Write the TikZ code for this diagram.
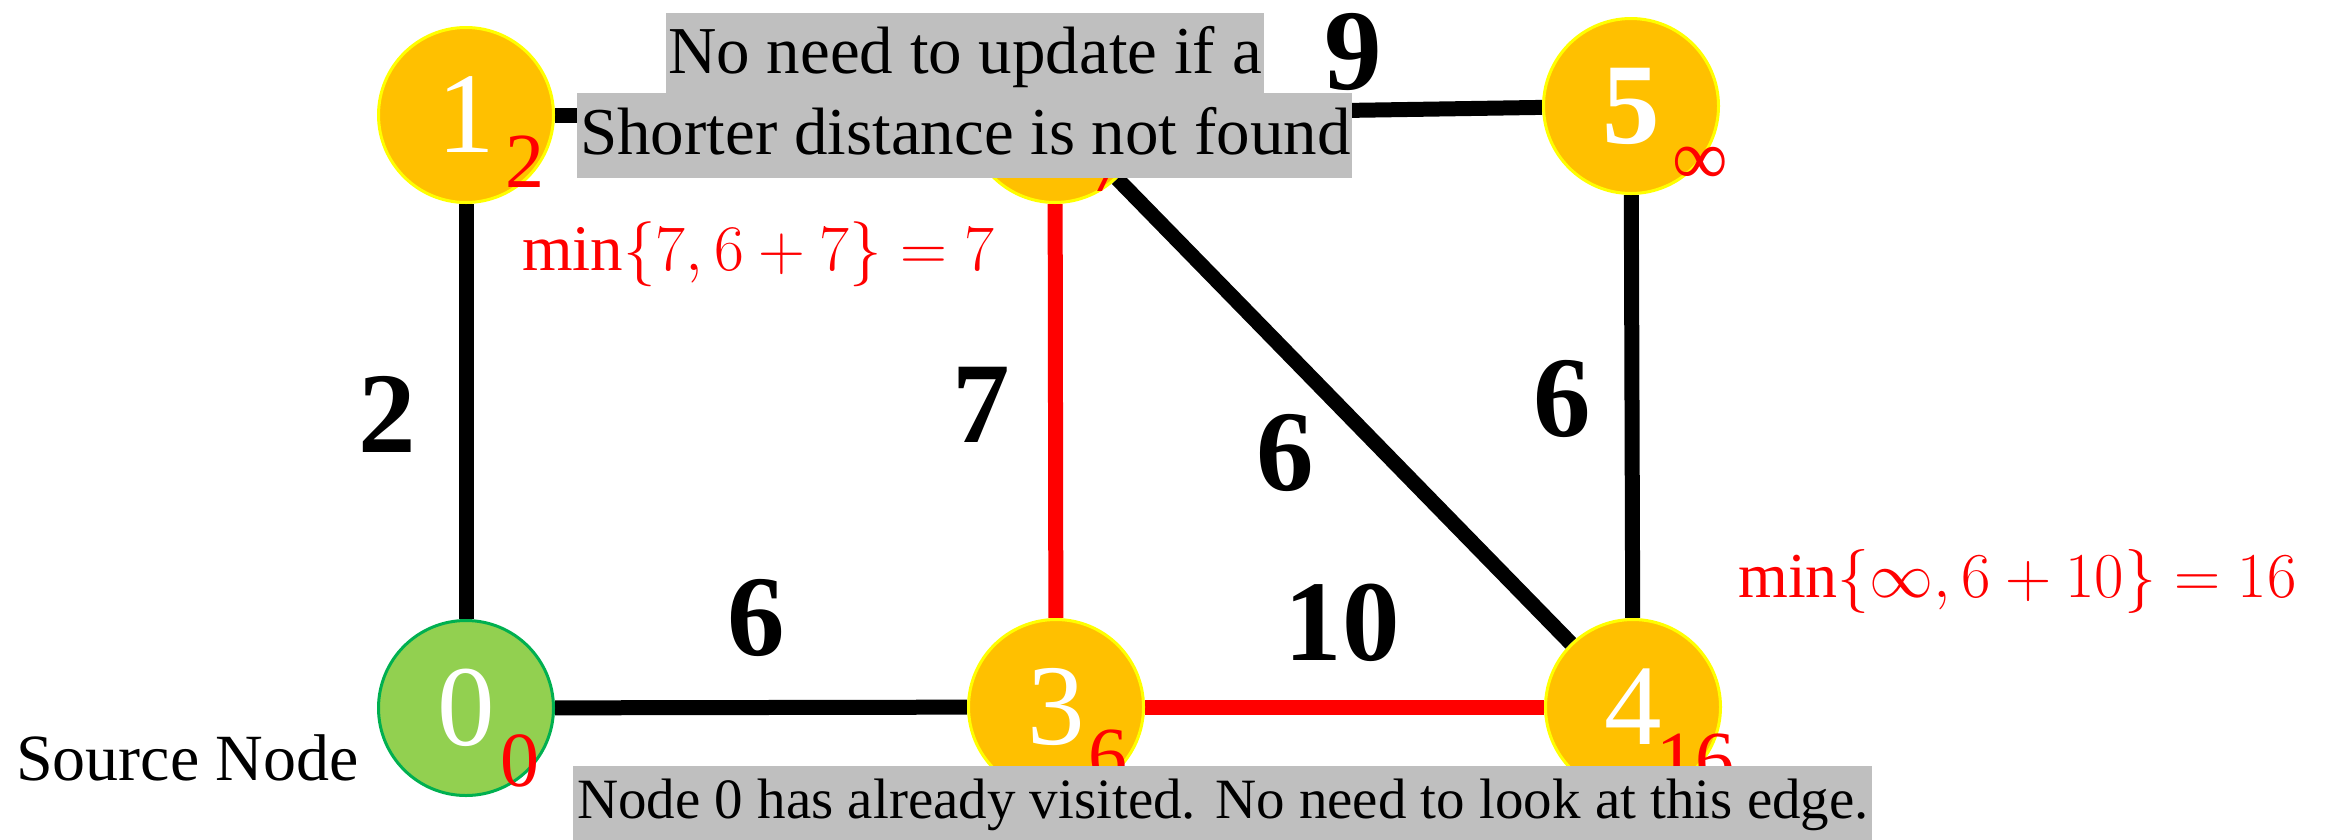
\documentclass[tikz,border=0pt]{standalone}
\usepackage{fix-cm}
\usepackage{fontspec}
\setmainfont{Liberation Serif}
\usetikzlibrary{backgrounds}
\definecolor{nodeorange}{HTML}{FFC000}
\definecolor{nodeyellow}{HTML}{FFFF00}
\definecolor{srcgreen}{HTML}{92D050}
\definecolor{srcborder}{HTML}{00B050}
\definecolor{boxgray}{HTML}{BFBFBF}
\tikzset{
  vertex/.style={circle, fill=nodeorange, draw=nodeyellow, line width=3pt,
    minimum size=175pt, inner sep=0pt, text=white,
    font=\fontsize{115}{115}\selectfont},
  srcvertex/.style={vertex, fill=srcgreen, draw=srcborder},
  edgeline/.style={line width=15pt, black},
  redline/.style={edgeline, red},
  wlabel/.style={inner sep=0pt, font=\fontsize{115}{115}\selectfont\bfseries},
  dlabel/.style={inner sep=0pt, text=red, font=\fontsize{78}{78}\selectfont},
  graybox/.style={fill=boxgray, draw=none, inner sep=0pt, anchor=north west},
  boxtext/.style={inner sep=0pt, anchor=base west},
  formula/.style={inner sep=0pt, text=red, font=\fontsize{65}{65}\selectfont, anchor=base west},
}
\begin{document}
\begin{tikzpicture}[x=1pt, y=-1pt]
\useasboundingbox (0,0) rectangle (2326,839);
% vertices
\node[vertex] (n1) at (466,115) {1};
\node[vertex] (n2) at (1055,115) {2};
\node[vertex, font=\fontsize{115}{115}\selectfont\bfseries] (n5) at (1631,106) {5};
\node[srcvertex] (n0) at (466,708) {0};
\node[vertex] (n3) at (1056,707) {3};
\node[vertex] (n4) at (1633,707) {4};
% edges
\begin{pgfonlayer}{background}
\draw[edgeline] (n1) -- (n2);
\draw[edgeline] (n2) -- (n5);
\draw[edgeline] (n1) -- (n0);
\draw[edgeline] (n0) -- (n3);
\draw[redline] (n2) -- (n3);
\draw[redline] (n3) -- (n4);
\draw[edgeline] (n2) -- (n4);
\draw[edgeline] (n5) -- (n4);
\end{pgfonlayer}
% distance labels
\node[dlabel] (d1) at (525,162) {2};
\node[dlabel] (d2) at (1108,166) {7};
\node[dlabel] (d5) at (1700,166) {∞};
\node[dlabel] (d0) at (520,761) {0};
\node[dlabel] (d3) at (1108,756) {6};
\node[dlabel] (d4) at (1695,760) {16};
% weights
\node[wlabel] (w10) at (387,414) {2};
\node[wlabel] (w23) at (981,405) {7};
\node[wlabel] (w24) at (1285,453) {6};
\node[wlabel] (w54) at (1562,399) {6};
\node[wlabel] (w03) at (756,618) {6};
\node[wlabel] (w34) at (1342,623) {10};
\node[wlabel] (w25) at (1353,52) {9};
% formulas
\node[formula] (f1) at (522,270) {$\min\{7, 6+7\} = 7$};
\node[formula, font=\fontsize{64}{64}\selectfont] (f2) at (1738,597) {$\min\{\infty, 6+10\} = 16$};
% source label
\node[boxtext, font=\fontsize{66}{66}\selectfont] (src) at (16,780) {Source Node};
% gray boxes
\node[graybox, minimum width=598pt, minimum height=80pt] (boxA) at (666,13) {};
\node[graybox, minimum width=775pt, minimum height=85pt] (boxB) at (577,93) {};
\node[boxtext, font=\fontsize{67}{67}\selectfont] (tA) at (668,73) {No need to update if a};
\node[boxtext, font=\fontsize{67}{67}\selectfont] (tB) at (580,154) {Shorter distance is not found};
\node[graybox, minimum width=1299pt, minimum height=75pt] (boxC) at (573,766) {};
\node[boxtext, font=\fontsize{57}{57}\selectfont] (tC) at (577,818) {Node 0 has already visited. No need to look at this edge.};
\end{tikzpicture}
\end{document}
